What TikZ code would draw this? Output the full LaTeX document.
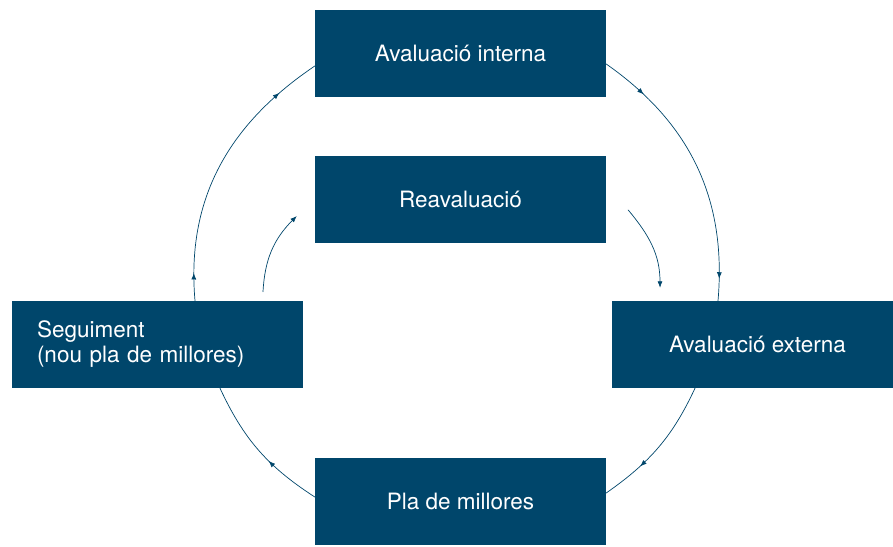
\documentclass[tikz,border=0pt]{standalone}
\usepackage{fontspec}
\setmainfont{TeX Gyre Heros}
\usepackage{tikz}
\usetikzlibrary{arrows.meta}
\usetikzlibrary{calc}
\usetikzlibrary{decorations.markings}
\definecolor{fosc}{RGB}{0,70,107}

\begin{document}
\begin{tikzpicture}
      [x=1pt,y=-1pt,line cap=round,line join=round,
       caixa/.style={fill=fosc,text=white,inner sep=0pt,minimum width=291pt,minimum height=87pt,
                     font=\fontsize{22.5}{25}\selectfont},
       fletxa/.style={color=fosc,line width=0.7pt},
       punta/.style={-{Latex[length=6.5pt,width=5pt]}},
       marca/.style={postaction={decorate,decoration={markings,
                     mark=at position #1 with {\arrow{Latex[length=6.5pt,width=5pt]}}}}}]%main layer

\useasboundingbox (0,0) rectangle (893,546);

%the boxes
 \node[caixa] (interna) at (460.5,53.5) {Avaluació interna};
 \node[caixa] (reavaluacio) at (460.5,199.5) {Reavaluació};
 \node[caixa,text width=241pt,inner xsep=25pt,align=left] (seguiment) at (157.5,344.5) {Seguiment\\(nou pla de millores)};
 \node[caixa,minimum width=281pt] (externa) at (752.5,344.5) {\hspace*{10pt}Avaluació externa};
 \node[caixa] (pla) at (460.5,501.5) {Pla de millores};

%outer cycle
 \draw[fletxa,marca=0.1,marca=0.84] ($(seguiment.north)+(37.5,0)$) to[out=95,in=214] ($(interna.west)+(0,12.5)$);
 \draw[fletxa,marca=0.175,marca=0.92] ($(interna.east)+(0,10.5)$) to[out=-35,in=85] ($(externa.north)+(-34.5,0)$);
 \draw[fletxa,marca=0.69] ($(externa.south)+(-57.5,0)$) to[out=-115,in=35] ($(pla.east)+(0,-8.5)$);
 \draw[fletxa,marca=0.4] ($(pla.west)+(0,-4.5)$) to[out=147,in=-65] ($(seguiment.south)+(62.5,0)$);

%inner arrows
 \draw[fletxa,punta] ($(seguiment.north)+(105.5,-9)$) to[out=87,in=225] ($(reavaluacio.west)+(-18,16.5)$);
 \draw[fletxa,punta] ($(reavaluacio.east)+(22,10.5)$) to[out=-50,in=90] ($(externa.north)+(-92.5,-13)$);

\end{tikzpicture}
\end{document}
